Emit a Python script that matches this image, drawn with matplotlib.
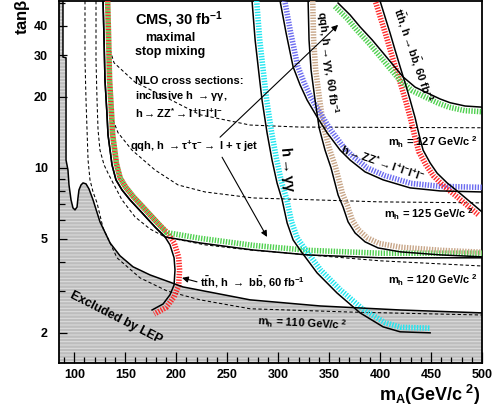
import numpy as np
import matplotlib
matplotlib.use('Agg')
import matplotlib.pyplot as plt
from matplotlib.ticker import FixedLocator, NullFormatter, FixedFormatter

# ---------------- data (mA [GeV], tan beta) ----------------
lep_mA = [88.9, 88.9, 91.9, 91.9, 93.8, 94.8, 96.8, 98.7, 100.7, 102.7, 103.6, 104.6, 106.6,
          108.6, 111.5, 114.4, 118.4, 125.2, 135.1, 144.9, 157.6, 174.3, 206.7, 272.4, 341.1, 419.7, 500]
lep_tb = [51, 29.5, 29.3, 10.8, 9.8, 8.47, 7.32, 6.77, 6.64, 6.83, 7.46, 8.07, 8.47,
          8.64, 8.56, 8.15, 7.32, 5.91, 4.81, 4.24, 3.81, 3.52, 3.13, 2.76, 2.60, 2.50, 2.43]

mh110_mA = [110.5, 110.5, 111.5, 112.5, 113.5, 115.4, 118.4, 122.3, 128.2, 141.9, 164.5, 191.0, 223.4, 272.4, 370.6, 500]
mh110_tb = [51, 28.7, 19.4, 14.5, 10.8, 8.9, 7.91, 7.11, 5.57, 4.16, 3.42, 3.01, 2.76, 2.53, 2.45, 2.38]

mh120_mA = [121.3, 121.3, 122.3, 123.3, 125.2, 129.2, 133.1, 138.0, 146.8, 159.6, 174.3, 189.0, 228.3, 272.4, 400.0, 500]
mh120_tb = [51, 28.7, 19.4, 14.5, 11.9, 10.3, 9.5, 8.64, 7.32, 6.20, 5.51, 5.10, 4.72, 4.49, 4.04, 3.84]

mh125_mA = [138.0, 142.9, 156.6, 179.2, 201.8, 228.3, 275.4, 400.0, 500]
mh125_tb = [16.0, 14.1, 11.9, 9.8, 8.47, 7.91, 7.46, 7.18, 7.11]

mh127_mA = [135.1, 139.0, 159.6, 191.0, 223.4, 272.4, 321.5, 500]
mh127_tb = [31.6, 27.9, 23.1, 19.8, 16.8, 15.2, 14.9, 14.8]

# ttH, H->bb (left contour)
tth1_mA = [128.2, 129.2, 130.1, 132.1, 133.1, 135.1, 137.0, 140.9, 146.8, 154.7, 166.5, 179.2, 189.0,
           193.9, 197.9, 198.8, 197.9, 193.9, 187.1, 176.3]
tth1_tb = [51, 34.9, 23.6, 16.8, 13.8, 11.9, 10.3, 8.9, 8.07, 7.32, 6.45, 5.62, 5.10,
           4.72, 4.16, 3.70, 3.19, 2.90, 2.65, 2.50]
# qqh, h->tautau (left contour)
tau1_mA = [128.2, 129.2, 130.1, 132.1, 133.1, 135.1, 137.0, 140.9, 146.8, 154.7, 166.5, 179.2, 189.0,
           223.4, 275.4, 328.4, 400.0, 500]
tau1_tb = [51, 34.9, 23.6, 16.8, 13.8, 11.9, 10.3, 8.9, 8.07, 7.32, 6.45, 5.62, 5.10,
           4.81, 4.49, 4.28, 4.16, 4.16]
# inclusive h->gamma gamma
gg_mA = [274.4, 277.4, 281.3, 284.2, 289.1, 294.0, 298.9, 303.9, 308.8, 314.7, 321.5, 338.2, 357.8,
         380.4, 403.0, 419.7, 449.1]
gg_tb = [51, 34.9, 24.8, 19.4, 14.1, 10.8, 8.64, 7.32, 5.85, 4.95, 4.49, 3.59, 2.95,
         2.43, 2.12, 2.02, 2.00]
# qqh, h->gamma gamma
qqgg_mA = [329.4, 330.3, 332.3, 336.2, 340.2, 346.0, 351.9, 358.8, 363.7, 368.6, 375.5, 385.3, 398.1, 419.7, 458.9, 500]
qqgg_tb = [51, 34.9, 26.0, 19.4, 14.8, 11.9, 10.0, 7.68, 6.83, 5.91, 5.30, 4.86, 4.58, 4.41, 4.28, 4.20]
# h->ZZ*->4l
zz_mA = [301.9, 307.8, 314.7, 321.5, 328.4, 338.2, 348.0, 360.8, 370.6, 385.3, 403.0, 429.5, 458.9, 500]
zz_tb = [51, 37.3, 26.8, 22.5, 19.4, 16.45, 14.1, 11.9, 10.8, 9.62, 8.9, 8.23, 7.99, 7.91]
# ttH, H->bb (right contour)
tth2_mA = [400.0, 404.9, 409.8, 414.7, 419.7, 424.6, 429.5, 434.4, 438.3, 442.2, 449.1, 456.0, 465.8, 475.6, 488.4, 500]
tth2_tb = [51, 43.6, 37.3, 31.6, 26.8, 22.9, 19.4, 16.3, 13.8, 11.9, 10.5, 9.5, 8.64, 7.99, 7.18, 6.51]
# qqh, h->tautau (right contour)
tau2_mA = [358.8, 370.6, 380.4, 392.2, 403.0, 412.8, 422.6, 434.4, 446.2, 458.9, 468.7, 483.4, 500]
tau2_tb = [50.0, 44.5, 39.6, 34.9, 30.7, 27.3, 24.3, 22.0, 20.8, 19.6, 18.9, 18.3, 18.1]

x_ticks = [100, 150, 200, 250, 300, 350, 400, 450, 500]
y_ticks = [2, 5, 10, 20, 30, 40]
y_minor = [3, 4, 6, 7, 8, 9, 50]

# ---------------- style ----------------
plt.rcParams['font.family'] = ['Liberation Sans', 'DejaVu Sans']
plt.rcParams['font.weight'] = 'bold'
plt.rcParams['mathtext.fontset'] = 'custom'
plt.rcParams['mathtext.rm'] = 'Liberation Sans:bold'
plt.rcParams['mathtext.it'] = 'Liberation Sans:bold'
plt.rcParams['mathtext.bf'] = 'Liberation Sans:bold'
plt.rcParams['mathtext.sf'] = 'Liberation Sans:bold'
plt.rcParams['mathtext.default'] = 'rm'
plt.rcParams['hatch.linewidth'] = 0.7
plt.rcParams['lines.scale_dashes'] = False

RED = '#ff2a2a'
GREEN = '#4fd04f'
CYAN = '#22e6f0'
BLUE = '#6b6bf0'
BROWN = '#c8a688'

fig = plt.figure(figsize=(4.99, 4.11), dpi=100)
ax = fig.add_axes([59/499, 48/411, 423/499, 362/411])
ax.set_yscale('log')
ax.set_xlim(85, 500)
ax.set_ylim(1.49, 51)

# LEP excluded region
x0, x1 = ax.get_xlim()
y0, y1 = ax.get_ylim()
fx = np.concatenate([[x0], lep_mA, [x1, x0]])
fy = np.concatenate([[y1], lep_tb, [y0, y0]])
ax.fill(fx, fy, facecolor='#bdbdbd', edgecolor='none', zorder=1)
ax.fill(fx, fy, facecolor='none', edgecolor='#dedede', hatch='-----', linewidth=0, zorder=1.1)
ax.plot(lep_mA, lep_tb, color='black', lw=1.1, zorder=4)

# mh contours (dashed)
for mx, my in [(mh110_mA, mh110_tb), (mh120_mA, mh120_tb), (mh125_mA, mh125_tb), (mh127_mA, mh127_tb)]:
    ax.plot(mx, my, color='black', lw=0.75, linestyle=(0, (2.4, 1.7)), zorder=2)


def band(x, y, side, color, phase=0.0, off_px=4.6, lw=4.0):
    pts = ax.transData.transform(np.column_stack([x, y]))
    d = np.gradient(pts, axis=0)
    nrm = np.hypot(d[:, 0], d[:, 1])[:, None]
    n = np.column_stack([-d[:, 1], d[:, 0]]) / nrm
    q = pts + side * off_px * n
    xy = ax.transData.inverted().transform(q)
    ax.plot(xy[:, 0], xy[:, 1], color=color, lw=lw, linestyle=(phase, (1.0, 1.0)),
            dash_capstyle='butt', solid_capstyle='butt', zorder=3)


band(tth1_mA, tth1_tb, +1, RED, phase=0.0)
band(tau1_mA, tau1_tb, +1, GREEN, phase=1.0)
band(gg_mA, gg_tb, +1, CYAN)
band(qqgg_mA, qqgg_tb, +1, BROWN)
band(zz_mA, zz_tb, +1, BLUE)
band(tth2_mA, tth2_tb, -1, RED)
band(tau2_mA, tau2_tb, -1, GREEN)

for mx, my in [(tth1_mA, tth1_tb), (tau1_mA, tau1_tb), (gg_mA, gg_tb), (qqgg_mA, qqgg_tb),
               (zz_mA, zz_tb), (tth2_mA, tth2_tb), (tau2_mA, tau2_tb)]:
    ax.plot(mx, my, color='black', lw=1.1, zorder=4)

# ---------------- texts ----------------
T = dict(zorder=6, fontweight='bold')
ax.text(159.6, 42.4, r'CMS, 30 fb$^{-1}$', fontsize=10.5, ha='left', va='center', **T)
ax.text(169.4, 35.5, 'maximal', fontsize=9, ha='left', va='center', **T)
ax.text(159.6, 31.0, 'stop mixing', fontsize=9, ha='left', va='center', **T)
ax.text(159.6, 23.4, 'NLO cross sections:', fontsize=8, ha='left', va='center', **T)
ax.text(159.6, 20.2, r'inclusive h $\rightarrow\gamma\gamma$,', fontsize=8, ha='left', va='center', **T)
ax.text(159.6, 17.1, r'h$\rightarrow$ZZ$^{*}\rightarrow$l$^{+}$l$^{-}$l$^{+}$l$^{-}$', fontsize=8,
        ha='left', va='center', **T)
ax.text(154.7, 12.4, r'qqh, h $\rightarrow\tau^{+}\tau^{-}\rightarrow$ l + $\tau$ jet', fontsize=8,
        ha='left', va='center', **T)

ax.text(308.5, 9.8, r'h$\rightarrow\gamma\gamma$', fontsize=10.5, rotation=-85, ha='center', va='center',
        rotation_mode='anchor', **T)
ax.text(348.0, 28.1, r'qqh, h$\rightarrow\gamma\gamma$, 60 fb$^{-1}$', fontsize=8, rotation=-83,
        ha='center', va='center', rotation_mode='anchor', **T)
ax.text(432.4, 30.1, r't$\bar{t}$h, h$\rightarrow$b$\bar{b}$, 60 fb$^{-1}$', fontsize=8, rotation=-71,
        ha='center', va='center', rotation_mode='anchor', **T)
ax.text(403.0, 10.5, r'h$\rightarrow$ZZ$^{*}\rightarrow$l$^{+}$l$^{-}$l$^{+}$l$^{-}$', fontsize=8,
        rotation=-19, ha='center', va='center', rotation_mode='anchor', **T)

ax.text(407.9, 12.9, r'm$_{h}$ = 127 GeV/c$^{\ 2}$', fontsize=8, ha='left', va='center', **T)
ax.text(404.0, 6.38, r'm$_{h}$ = 125 GeV/c$^{\ 2}$', fontsize=8, ha='left', va='center', **T)
ax.text(407.9, 3.35, r'm$_{h}$ = 120 GeV/c$^{\ 2}$', fontsize=8, ha='left', va='center', **T)
ax.text(279.3, 2.23, r'm$_{h}$ = 110 GeV/c$^{\ 2}$', fontsize=8, ha='left', va='center', rotation=-3,
        rotation_mode='anchor', **T)
ax.text(223.4, 3.26, r't$\bar{t}$h, h $\rightarrow$ b$\bar{b}$, 60 fb$^{-1}$', fontsize=8,
        ha='left', va='center', **T)
ax.text(141.0, 2.31, 'Excluded by LEP', fontsize=9, rotation=-27, ha='center', va='center',
        rotation_mode='anchor', **T)

# arrows
AP = dict(arrowstyle='-|>', color='black', lw=0.8, mutation_scale=9, shrinkA=0, shrinkB=0)
ax.annotate('', xy=(358.8, 40.4), xytext=(243.0, 13.5), arrowprops=AP, zorder=6)
ax.annotate('', xy=(289.1, 5.10), xytext=(245.0, 11.1), arrowprops=AP, zorder=6)
ax.annotate('', xy=(205.7, 3.42), xytext=(220.4, 3.29), arrowprops=AP, zorder=6)

# ---------------- axes ----------------
ax.xaxis.set_major_locator(FixedLocator(x_ticks))
ax.xaxis.set_minor_locator(FixedLocator(list(range(90, 501, 10))))
ax.yaxis.set_major_locator(FixedLocator(y_ticks))
ax.yaxis.set_major_formatter(FixedFormatter([str(v) for v in y_ticks]))
ax.yaxis.set_minor_locator(FixedLocator(y_minor))
ax.yaxis.set_minor_formatter(NullFormatter())
ax.tick_params(which='both', direction='in', top=False, right=False, labelsize=9, width=0.9)
ax.tick_params(axis='x', which='major', length=8, pad=4)
ax.tick_params(axis='x', which='minor', length=4)
ax.tick_params(axis='y', which='major', length=6, pad=8)
ax.tick_params(axis='y', which='minor', length=4)
for lab in ax.get_xticklabels() + ax.get_yticklabels():
    lab.set_fontweight('bold')
for s in ax.spines.values():
    s.set_linewidth(1.3)

fig.text(22/499, 1 - 17/411, r'tan$\beta$', rotation=90, fontsize=12, ha='center', va='center',
         fontweight='bold')
fig.text(480/499, 1 - 395/411, r'm$_{A}$(GeV/c$^{\ 2}$)', fontsize=13, ha='right', va='center',
         fontweight='bold')

fig.savefig('out.png', dpi=100)
